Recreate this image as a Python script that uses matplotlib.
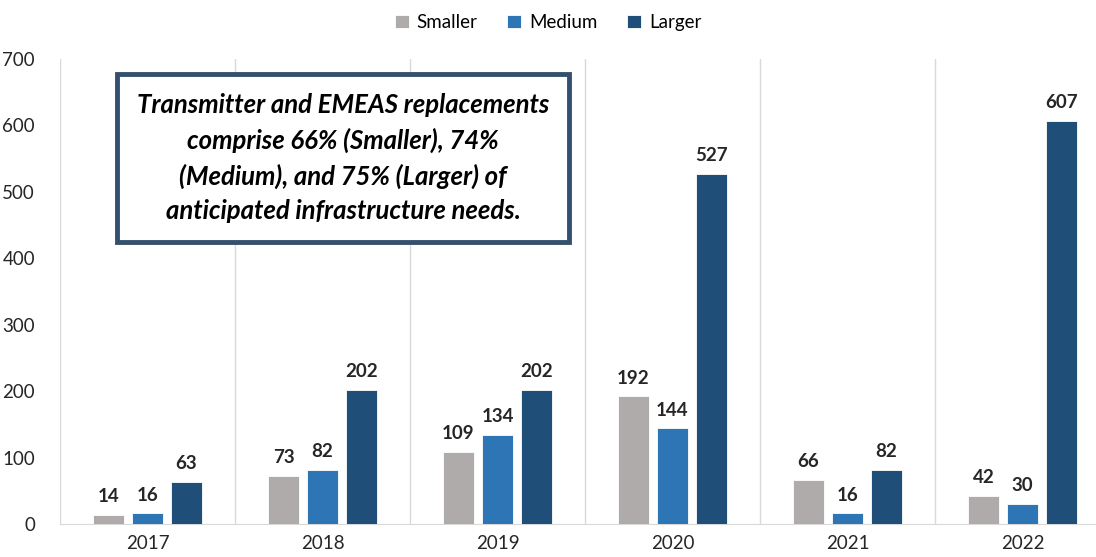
import numpy as np
import matplotlib
matplotlib.use("Agg")
import matplotlib.pyplot as plt

# data
years = ["2017", "2018", "2019", "2020", "2021", "2022"]
smaller = [14, 73, 109, 192, 66, 42]
medium = [16, 82, 134, 144, 16, 30]
larger = [63, 202, 202, 527, 82, 607]

series_names = ["Smaller", "Medium", "Larger"]
colors = ["#AFABAB", "#2E75B6", "#1F4E79"]
note = ("Transmitter and EMEAS replacements\n"
        "comprise 66% (Smaller), 74%\n"
        "(Medium), and 75% (Larger) of\n"
        "anticipated infrastructure needs.")

plt.rcParams["font.family"] = ["Lato", "DejaVu Sans"]

fig = plt.figure(figsize=(10.96, 5.57), dpi=100)
# axes runs past the right edge like the cropped original
ax = fig.add_axes([60 / 1096, 33 / 557, 1050 / 1096, 465 / 557])

x = np.arange(len(years))
width = 0.172
step = 0.223
for i, (name, vals) in enumerate(zip(series_names, [smaller, medium, larger])):
    bars = ax.bar(x + (i - 1) * step, vals, width, color=colors[i],
                  edgecolor="white", linewidth=0.6, label=name, zorder=3)
    ax.bar_label(bars, padding=7, fontsize=13.5, fontweight="bold",
                 color="#262626")

ax.set_xlim(-0.5, len(years) - 0.5)
ax.set_ylim(0, 700)
ax.set_yticks(range(0, 701, 100))
ax.set_xticks(x)
ax.set_xticklabels(years)
ax.set_xticks(np.arange(-0.5, len(years), 1), minor=True)
ax.grid(which="minor", axis="x", color="#D9D9D9", linewidth=1)
ax.tick_params(axis="both", which="both", length=0, labelsize=13.5,
               colors="#262626")
ax.tick_params(axis="x", pad=8)
ax.tick_params(axis="y", pad=18)
for s in ["left", "right", "top"]:
    ax.spines[s].set_visible(False)
ax.spines["bottom"].set_color("#D9D9D9")

fig.legend(loc="upper center", bbox_to_anchor=(0.5, 1.005), ncol=3,
           frameon=False, fontsize=13.5, handlelength=0.75, handleheight=0.75,
           handletextpad=0.4, columnspacing=1.6)

ax.text(0.2695, 0.787, note, transform=ax.transAxes, ha="center", va="center",
        fontsize=18.5, fontweight="bold", fontstyle="italic", color="black",
        linespacing=1.5, zorder=5,
        bbox=dict(boxstyle="square,pad=0.76", facecolor="white",
                  edgecolor="#34506E", linewidth=3.5))

fig.savefig("out.png", dpi=100)
